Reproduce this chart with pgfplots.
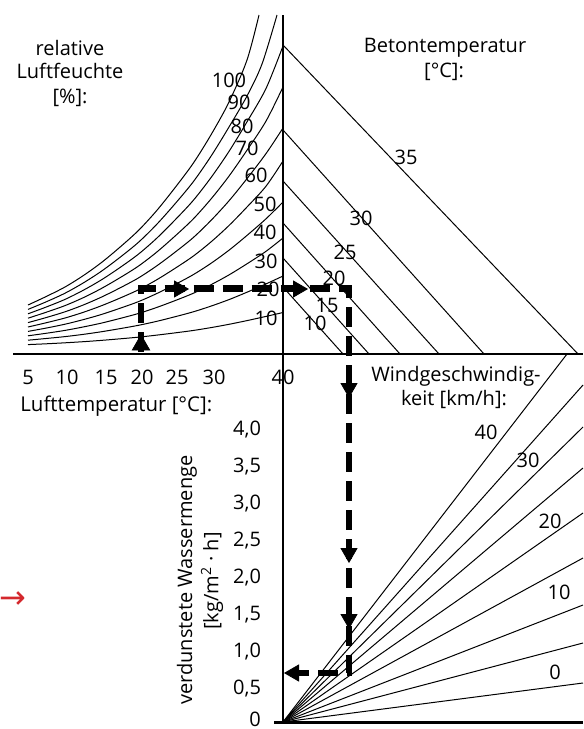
\documentclass[border=0pt]{standalone}
\usepackage{pgfplots}
\pgfplotsset{compat=1.18}
\usetikzlibrary{plotmarks}
\usepackage{fontspec}
\setmainfont{Open Sans}
\newfontfamily\dejavu{DejaVu Sans}
\definecolor{arrowred}{RGB}{212,40,45}
\begin{document}
\begin{tikzpicture}[font=\fontsize{10}{12}\selectfont]
\begin{axis}[name=ax, scale only axis, width=291.5pt, height=364.5pt,
  xmin=0, xmax=583, ymin=0, ymax=729, y dir=reverse, hide axis, clip=false]
% relative humidity curves (10 ... 100 %)
\pgfplotsset{hum/.style={black, line width=0.5pt, smooth, mark=none}}
\addplot[hum] coordinates {(28,344.6)(46,343.8)(65,342.8)(83,341.7)(101,340.4)(119,338.9)(138,337.2)(156,335.2)(174,333.0)(193,330.5)(211,327.6)(229,324.3)(247,320.6)(266,316.4)(283,312.5)};
\addplot[hum] coordinates {(28,340.2)(46,338.5)(65,336.6)(83,334.4)(101,331.8)(119,328.8)(138,325.4)(156,321.5)(174,317.0)(193,311.9)(211,306.1)(229,299.6)(247,292.2)(266,283.9)(283,276)};
\addplot[hum] coordinates {(28,335.8)(46,333.3)(65,330.4)(83,327.0)(101,323.2)(119,318.7)(138,313.6)(156,307.7)(174,301.0)(193,293.4)(211,284.7)(229,274.9)(247,263.8)(266,251.3)(283,238)};
\addplot[hum] coordinates {(28,331.4)(46,328.1)(65,324.2)(83,319.7)(101,314.6)(119,308.6)(138,301.8)(156,293.9)(174,285.0)(193,274.8)(211,263.3)(229,250.2)(247,235.4)(266,218.8)(283,202)};
\addplot[hum] coordinates {(28,327.0)(46,322.8)(65,318.0)(83,312.4)(101,305.9)(119,298.5)(138,290.0)(156,280.2)(174,269.0)(193,256.3)(211,241.9)(229,225.5)(247,207.0)(266,186.2)(283,161)};
\addplot[hum] coordinates {(28,322.6)(46,317.6)(65,311.8)(83,305.1)(101,297.3)(119,288.4)(138,278.2)(156,266.4)(174,253.0)(193,237.8)(211,220.4)(229,200.8)(247,178.6)(266,153.6)(283,128)};
\addplot[hum] coordinates {(28,318.2)(46,312.3)(65,305.6)(83,297.8)(101,288.7)(119,278.3)(138,266.4)(156,252.7)(174,237.0)(193,219.2)(211,199.0)(229,176.1)(247,150.2)(266,121.1)(283,87)};
\addplot[hum] coordinates {(28,313.8)(46,307.1)(65,299.4)(83,290.4)(101,280.1)(119,268.2)(138,254.5)(156,238.9)(174,221.0)(193,200.7)(211,177.6)(229,151.4)(247,121.8)(266,88.5)(283,46)};
\addplot[hum] coordinates {(28,309.4)(46,301.9)(65,293.2)(83,283.1)(101,271.5)(119,258.1)(138,242.7)(156,225.1)(174,205.0)(193,182.1)(211,156.2)(229,127)(247,96)(262,64)(277,15)};
\addplot[hum] coordinates {(28,305.0)(46,296.6)(65,287.0)(83,275.8)(101,262.9)(119,248.0)(138,230.9)(156,211.4)(174,189.0)(193,163.6)(211,134.8)(229,102)(247,60)(259,15)};
% concrete temperature lines
\pgfplotsset{thin line/.style={black, line width=0.5pt, mark=none}}
\addplot[thin line] coordinates {(283,287)(343,354)};
\addplot[thin line] coordinates {(283,258)(369,354)};
\addplot[thin line] coordinates {(283,223)(400,354)};
\addplot[thin line] coordinates {(283,181)(439,354)};
\addplot[thin line] coordinates {(283,130)(484,354)};
\addplot[thin line] coordinates {(283,45)(578,354)};
% wind speed lines
\addplot[thin line] coordinates {(283,722)(567,354)};
\addplot[thin line] coordinates {(283,722)(583,385)};
\addplot[thin line] coordinates {(283,722)(583,427)};
\addplot[thin line] coordinates {(283,722)(583,468)};
\addplot[thin line] coordinates {(283,722)(583,513)};
\addplot[thin line] coordinates {(283,722)(583,558)};
\addplot[thin line] coordinates {(283,722)(583,605)};
\addplot[thin line] coordinates {(283,722)(583,643)};
\addplot[thin line] coordinates {(283,722)(583,683)};
% axes
\addplot[black, line width=1.25pt, mark=none] coordinates {(283,15)(283,724)};
\addplot[black, line width=1.25pt, mark=none] coordinates {(13,354)(583,354)};
\addplot[black, line width=1.25pt, mark=none] coordinates {(274,722.5)(583,722.5)};
% example path
\addplot[black, line width=3.4pt, mark=none, dash pattern=on 10pt off 4.5pt] coordinates {(141,352)(141,288.5)(349,288.5)(349,673)(298,673)};
\addplot[only marks, mark=triangle*, mark size=5pt, mark options={fill=black, draw=black, rotate=0}] coordinates {(141,345)};
\addplot[only marks, mark=triangle*, mark size=4.6pt, mark options={fill=black, draw=black, rotate=-90}] coordinates {(179,289)(298,289)};
\addplot[only marks, mark=triangle*, mark size=4.6pt, mark options={fill=black, draw=black, rotate=180}] coordinates {(349,388)(349,553)(349,619)};
\addplot[only marks, mark=triangle*, mark size=4.6pt, mark options={fill=black, draw=black, rotate=90}] coordinates {(294,673)};
% titles
\node[anchor=base] at (70,55) {relative};
\node[anchor=base] at (70,78.5) {Luftfeuchte};
\node[anchor=base] at (70,103) {[\%]:};
\node[anchor=base] at (445,52.5) {Betontemperatur};
\node[anchor=base] at (444,77) {[°C]:};
\node[anchor=base] at (456,381.5) {Windgeschwindig-};
\node[anchor=base] at (454,405) {keit [km/h]:};
\node[anchor=base west, inner sep=0pt, font=\fontsize{10.2}{12}\selectfont] at (20,411) {Lufttemperatur [°C]:};
\node[rotate=90] at (187,580) {verdunstete Wassermenge};
\node[rotate=90] at (212,581) {[kg/m\textsuperscript{2} · h]};
\node[text=arrowred, font=\dejavu\fontsize{16}{16}\selectfont] at (13,600) {→};
% humidity labels
\node[anchor=base] at (229,87) {100};
\node[anchor=base] at (239,109) {90};
\node[anchor=base] at (242,133) {80};
\node[anchor=base] at (247,155) {70};
\node[anchor=base] at (256,182) {60};
\node[anchor=base] at (265,211) {50};
\node[anchor=base] at (265,239) {40};
\node[anchor=base] at (266,268) {30};
\node[anchor=base] at (268,296) {20};
\node[anchor=base] at (266,325) {10};
% concrete labels
\node[anchor=base] at (406,164) {35};
\node[anchor=base] at (361,225) {30};
\node[anchor=base] at (345,259) {25};
\node[anchor=base] at (334,285) {20};
\node[anchor=base] at (327,312) {15};
\node[anchor=base] at (315,330) {10};
% wind labels
\node[anchor=base] at (486,439) {40};
\node[anchor=base] at (528,467) {30};
\node[anchor=base] at (550,528) {20};
\node[anchor=base] at (559,599) {10};
\node[anchor=base] at (555,679) {0};
% air temperature tick labels
\node[anchor=base] at (28,384) {5};
\node[anchor=base] at (67,384) {10};
\node[anchor=base] at (106,384) {15};
\node[anchor=base] at (142,384) {20};
\node[anchor=base] at (177,384) {25};
\node[anchor=base] at (214,384) {30};
\node[anchor=base] at (283,384) {40};
% evaporation tick labels
\node[anchor=base east] at (268,435.8) {4,0};
\node[anchor=base east] at (268,472.7) {3,5};
\node[anchor=base east] at (268,509.6) {3,0};
\node[anchor=base east] at (268,546.5) {2,5};
\node[anchor=base east] at (268,583) {2,0};
\node[anchor=base east] at (268,620) {1,5};
\node[anchor=base east] at (268,657) {1,0};
\node[anchor=base east] at (268,694) {0,5};
\node[anchor=base east, inner sep=0pt] at (261.3,726) {0};
\end{axis}
\pgfresetboundingbox
\path[use as bounding box] (ax.south west) rectangle (ax.north east);
\end{tikzpicture}
\end{document}
